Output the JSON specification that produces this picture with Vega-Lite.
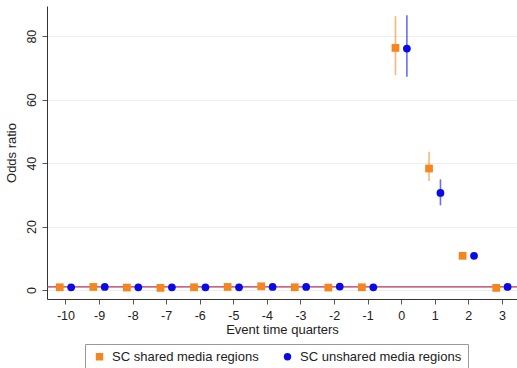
{
  "$schema": "https://vega.github.io/schema/vega-lite/v6.json",
  "autosize": "none",
  "width": 470,
  "height": 293,
  "padding": {"left": 47, "top": 6, "right": 0, "bottom": 69},
  "background": "white",
  "config": {
    "font": "Liberation Sans",
    "view": {"stroke": null},
    "axis": {
      "labelFont": "Liberation Sans",
      "titleFont": "Liberation Sans",
      "labelFontSize": 12.5,
      "titleFontSize": 13,
      "labelColor": "#222222",
      "titleColor": "#222222",
      "titleFontWeight": "normal",
      "domainColor": "#333333",
      "tickColor": "#555555",
      "tickSize": 5
    }
  },
  "data": {
    "values": [
      {"period": -10, "group": "SC shared media regions", "or": 0.9, "lo": 0.6, "hi": 1.2},
      {"period": -9, "group": "SC shared media regions", "or": 1.0, "lo": 0.7, "hi": 1.3},
      {"period": -8, "group": "SC shared media regions", "or": 0.8, "lo": 0.5, "hi": 1.1},
      {"period": -7, "group": "SC shared media regions", "or": 0.7, "lo": 0.4, "hi": 1.0},
      {"period": -6, "group": "SC shared media regions", "or": 0.9, "lo": 0.6, "hi": 1.2},
      {"period": -5, "group": "SC shared media regions", "or": 1.0, "lo": 0.7, "hi": 1.3},
      {"period": -4, "group": "SC shared media regions", "or": 1.2, "lo": 0.9, "hi": 1.5},
      {"period": -3, "group": "SC shared media regions", "or": 0.9, "lo": 0.6, "hi": 1.2},
      {"period": -2, "group": "SC shared media regions", "or": 0.8, "lo": 0.5, "hi": 1.1},
      {"period": -1, "group": "SC shared media regions", "or": 0.9, "lo": 0.6, "hi": 1.2},
      {"period": 0, "group": "SC shared media regions", "or": 76.3, "lo": 67.7, "hi": 86.3},
      {"period": 1, "group": "SC shared media regions", "or": 38.3, "lo": 34.4, "hi": 43.6},
      {"period": 2, "group": "SC shared media regions", "or": 10.8, "lo": 10.0, "hi": 11.6},
      {"period": 3, "group": "SC shared media regions", "or": 0.7, "lo": 0.4, "hi": 1.0},
      {"period": -10, "group": "SC unshared media regions", "or": 0.9, "lo": 0.6, "hi": 1.2},
      {"period": -9, "group": "SC unshared media regions", "or": 1.0, "lo": 0.7, "hi": 1.3},
      {"period": -8, "group": "SC unshared media regions", "or": 0.9, "lo": 0.6, "hi": 1.2},
      {"period": -7, "group": "SC unshared media regions", "or": 0.9, "lo": 0.6, "hi": 1.2},
      {"period": -6, "group": "SC unshared media regions", "or": 0.9, "lo": 0.6, "hi": 1.2},
      {"period": -5, "group": "SC unshared media regions", "or": 0.9, "lo": 0.6, "hi": 1.2},
      {"period": -4, "group": "SC unshared media regions", "or": 1.0, "lo": 0.7, "hi": 1.3},
      {"period": -3, "group": "SC unshared media regions", "or": 1.0, "lo": 0.7, "hi": 1.3},
      {"period": -2, "group": "SC unshared media regions", "or": 1.1, "lo": 0.8, "hi": 1.4},
      {"period": -1, "group": "SC unshared media regions", "or": 0.9, "lo": 0.6, "hi": 1.2},
      {"period": 0, "group": "SC unshared media regions", "or": 76.1, "lo": 67.2, "hi": 86.6},
      {"period": 1, "group": "SC unshared media regions", "or": 30.6, "lo": 26.7, "hi": 34.9},
      {"period": 2, "group": "SC unshared media regions", "or": 10.8, "lo": 9.8, "hi": 11.8},
      {"period": 3, "group": "SC unshared media regions", "or": 1.0, "lo": 0.7, "hi": 1.3}
    ]
  },
  "transform": [
    {"calculate": "datum.period + (datum.group === 'SC shared media regions' ? -0.17 : 0.17)", "as": "xpos"}
  ],
  "encoding": {
    "x": {
      "field": "xpos", "type": "quantitative",
      "scale": {"domain": [-10.55, 3.45], "nice": false, "zero": false},
      "axis": {
        "title": "Event time quarters",
        "values": [-10, -9, -8, -7, -6, -5, -4, -3, -2, -1, 0, 1, 2, 3],
        "labelExpr": "'' + datum.value",
        "labelOverlap": false,
        "grid": false,
        "labelPadding": 5,
        "titlePadding": 2
      }
    },
    "y": {
      "field": "or", "type": "quantitative",
      "scale": {"domain": [-2.8, 89.5], "nice": false, "zero": false},
      "axis": {
        "title": "Odds ratio",
        "values": [0, 20, 40, 60, 80],
        "grid": true,
        "gridColor": "#eeeeee",
        "labelAngle": -90,
        "labelAlign": "center",
        "labelBaseline": "bottom",
        "labelPadding": 4,
        "titlePadding": 7
      }
    },
    "color": {
      "field": "group", "type": "nominal",
      "scale": {"domain": ["SC shared media regions", "SC unshared media regions"], "range": ["#f5861f", "#0a0ae8"]},
      "legend": {
        "title": null,
        "orient": "none",
        "legendX": 38,
        "legendY": 338,
        "direction": "horizontal",
        "columns": 2,
        "columnPadding": 20,
        "padding": 6,
        "strokeColor": "#999999",
        "fillColor": "white",
        "labelFontSize": 13,
        "labelColor": "#222222",
        "labelLimit": 300,
        "symbolSize": 35,
        "symbolOpacity": 1,
        "symbolOffset": 2,
        "labelOffset": 6
      }
    }
  },
  "layer": [
    {
      "data": {"values": [{"ref": 1}]},
      "mark": {"type": "rule", "color": "#b5305a", "strokeWidth": 1.2},
      "encoding": {
        "x": null,
        "color": null,
        "y": {"field": "ref", "type": "quantitative"}
      }
    },
    {
      "mark": {"type": "rule", "strokeWidth": 1.6, "opacity": 0.6},
      "encoding": {
        "y": {"field": "lo", "type": "quantitative"},
        "y2": {"field": "hi"}
      }
    },
    {
      "mark": {"type": "point", "filled": true, "opacity": 1, "size": 60},
      "encoding": {
        "shape": {
          "field": "group", "type": "nominal",
          "scale": {"domain": ["SC shared media regions", "SC unshared media regions"], "range": ["square", "circle"]}
        }
      }
    }
  ]
}
